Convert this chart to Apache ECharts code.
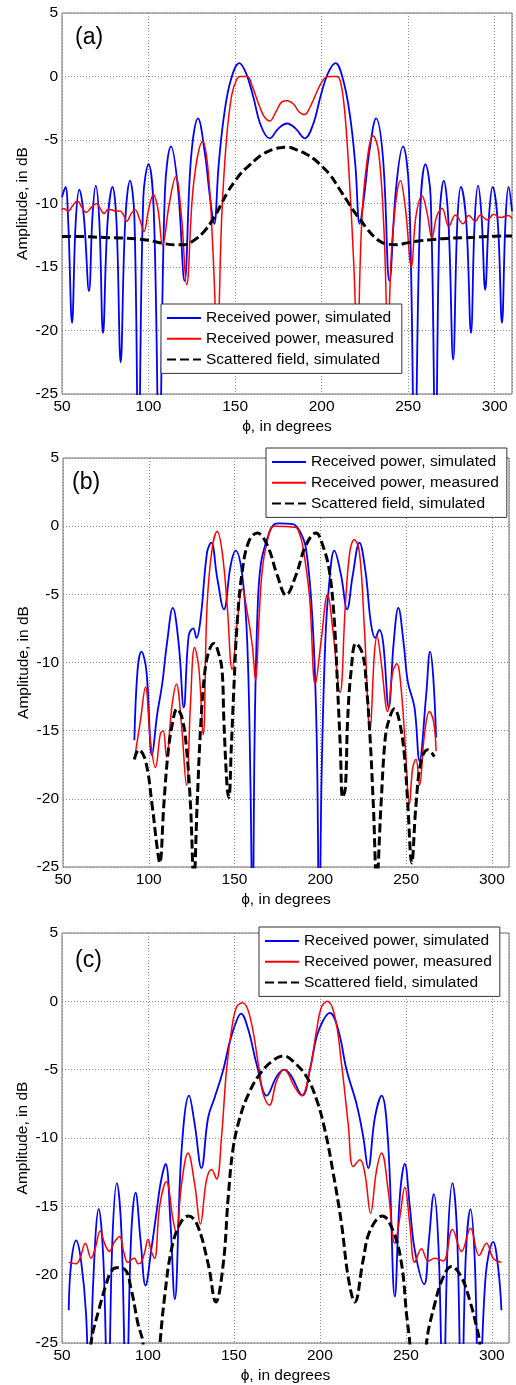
<!DOCTYPE html>
<html><head><meta charset="utf-8">
<script src="https://cdn.jsdelivr.net/npm/echarts@6/dist/echarts.min.js"></script>
<style>html,body{margin:0;padding:0;background:#fff}#c{width:516px;height:1385px}</style>
</head><body><div id="c"></div><script>
// ---- data: [phi (deg), amplitude (dB)] ----
const xTicks = [50, 100, 150, 200, 250, 300];
const yTicks = [-25, -20, -15, -10, -5, 0, 5];
const seriesNames = ['Received power, simulated', 'Received power, measured', 'Scattered field, simulated'];
const panelLabels = ['(a)', '(b)', '(c)'];

const simA = [[50,-9.5],[52,-8.7],[53.6,-11.5],[55.8,-19.4],[57.9,-11.5],[60,-8.9],[62.6,-11],[65.6,-16.9],[67.6,-11],[69.5,-8.6],[71.6,-11.5],[73.7,-20.2],[76.3,-11.5],[79.2,-8.7],[81.5,-11.5],[83.9,-22.5],[86.5,-11.5],[89.3,-8.2],[91.8,-11],[94.2,-30],[97,-9.5],[100,-6.9],[103,-10.5],[106.2,-30],[109.5,-9],[113,-5.5],[117,-8.8],[120.8,-16.1],[124.5,-6.5],[128.6,-3.3],[132.5,-6],[135.5,-9.5],[137.9,-11.6],[140.5,-7],[143.5,-3.2],[147.5,-0.3],[152.5,1.05],[156.5,0.2],[160.5,-1.6],[165,-3.9],[170,-4.87],[175,-4.1],[180,-3.7],[185,-4.1],[190.2,-4.87],[195,-3.8],[199.5,-1.5],[203.5,0.2],[208,1.05],[212.5,-0.3],[216.5,-3.2],[219.5,-7],[222,-11.6],[224.5,-9.5],[227.5,-6],[231.5,-3.3],[235.5,-6.5],[239.2,-16.1],[243,-8.8],[247,-5.5],[250.5,-9],[253.8,-30],[257,-10.5],[260,-6.9],[263,-9.5],[265.8,-30],[268.2,-11],[270.6,-8.2],[273.3,-11.5],[276,-22.3],[278.4,-11.5],[280.5,-8.7],[283.6,-11.5],[286.3,-20.2],[288.4,-11.5],[290.4,-8.6],[292.4,-11],[294.5,-16.8],[296.7,-11],[298.8,-8.7],[301.8,-11.5],[304.2,-19.4],[306.2,-11.5],[308,-8.7],[310,-10.6]];
const meaA = [[50,-10.5],[50.8,-10.4],[53.7,-10.6],[56,-10.2],[58.9,-9.8],[61.5,-10.3],[63.9,-10.7],[67,-10.3],[70,-10.0],[72.5,-10.5],[74.3,-10.8],[76.5,-10.5],[78.7,-10.5],[81,-10.6],[83.5,-10.6],[85.5,-10.9],[87.4,-11.4],[90,-10.8],[92.2,-10.5],[95,-11.3],[97.4,-12.2],[100,-10.5],[102.8,-9.3],[105.5,-10.5],[108.1,-13.3],[112,-10],[115.7,-7.9],[119,-11],[122,-16.4],[126,-8.5],[131.3,-5.1],[134.5,-7.5],[137.3,-14],[139.7,-21],[142.3,-11],[145,-5],[148,-1.5],[151,-0.2],[153,0],[157,0],[160,-0.8],[164,-2.3],[167,-3.2],[170,-3.5],[173.5,-2.8],[177,-2.0],[180,-1.9],[184,-2.2],[187,-2.8],[190.2,-3.0],[193,-2.5],[196,-1.6],[199,-0.7],[202,-0.1],[205,0],[209,0],[211.2,-0.6],[213.5,-3],[216,-8],[218.5,-14.5],[220.6,-21],[223,-12],[225.5,-7.5],[229.8,-4.66],[233,-6],[236,-12],[238.3,-20],[241,-12.5],[245.6,-8.2],[248.5,-10.5],[251.9,-15],[254.5,-11],[258.1,-9.4],[261,-10.8],[263.8,-12.7],[266.5,-11],[269.6,-10.4],[273.5,-11.8],[277.3,-10.9],[281.7,-11.6],[285,-10.95],[288.8,-11.4],[291.7,-10.9],[295.6,-11.3],[299.4,-10.85],[303.3,-11.1],[308,-10.95],[310,-11.2]];
const scaA = [[50,-12.6],[60,-12.6],[70,-12.65],[80,-12.7],[90,-12.75],[100,-12.9],[108.8,-13.15],[115,-13.25],[120.4,-13.25],[126.3,-12.9],[132.1,-12.2],[137.9,-11.1],[141.8,-10.1],[145.7,-9.1],[149.6,-8.3],[153.5,-7.6],[157.4,-7.1],[161.3,-6.6],[165,-6.2],[169.1,-5.9],[173,-5.7],[176.8,-5.6],[180,-5.55],[186,-5.8],[191,-6.1],[195.6,-6.5],[200.4,-7.1],[205.2,-7.8],[210,-8.8],[214.8,-9.8],[218.6,-10.6],[222.5,-11.3],[226.3,-12.0],[230.2,-12.6],[234,-13.0],[237.9,-13.2],[243.6,-13.25],[249.4,-13.1],[256,-12.95],[262.9,-12.85],[272,-12.75],[282,-12.7],[296,-12.6],[310,-12.55]];

const simB = [[91.6,-15.7],[93.5,-10.5],[95.7,-9.2],[98.6,-10.6],[101.9,-16.8],[104.9,-13.8],[107.8,-11.6],[110.7,-8.5],[114,-6.0],[117.5,-8.7],[120.4,-13.3],[123.3,-8.0],[125.9,-7.5],[127.8,-8.2],[130.2,-6.8],[134,-1.9],[136.4,-1.2],[139.9,-3.8],[143.8,-6.1],[147.7,-2.9],[150.6,-1.8],[154.5,-3.6],[157.4,-8.5],[159.3,-19],[160.5,-30],[161.7,-15.5],[163.2,-7.0],[165.2,-2.9],[169.1,-0.9],[173,0.12],[176,0.2],[183.9,0.15],[187.7,-0.3],[191.6,-1.6],[195.5,-7],[197.9,-15.5],[199.4,-30],[200.8,-18],[202.9,-8.5],[204.9,-4.6],[208.2,-1.8],[212.1,-3.6],[215.6,-6.1],[218.9,-3.6],[222.8,-1.2],[226.3,-3.3],[229.6,-7.2],[232.1,-8.2],[234.4,-7.6],[236.6,-8.5],[239.9,-13.3],[242.8,-8.5],[245.5,-6.0],[248.5,-8.5],[251,-11.4],[254.9,-13.3],[257.8,-17.2],[261.7,-12.4],[264,-9.2],[265.8,-11],[267.5,-15.5]];
const meaB = [[91.6,-17.1],[95.1,-14.3],[98.1,-11.8],[101,-15.8],[103.9,-17.7],[106.8,-15.2],[108.4,-15.0],[110.3,-16.9],[113.6,-13.1],[116.1,-11.6],[118.9,-14.3],[122,-19],[124.3,-13.1],[126.7,-8.9],[129.2,-10.4],[131.7,-15.3],[134,-5.8],[137,-1.6],[139.9,-0.4],[142.8,-1.9],[145.7,-5.8],[148.6,-10.5],[151.6,-7],[154.5,-4.6],[157.4,-6.3],[160.3,-8.7],[162.3,-11.3],[164.2,-7],[166.1,-3.3],[169.1,-1.1],[173,0],[185.8,-0.1],[187.7,-0.5],[189.7,-1.4],[193.6,-5],[197.1,-11.6],[200.4,-8.5],[204.3,-5],[207.2,-7.5],[211.5,-12.2],[214.6,-5.8],[217.3,-1.8],[219.8,-1.0],[222.8,-1.9],[225.7,-7.5],[229,-15],[231.5,-9.4],[233.1,-8.1],[235.4,-9.9],[239.3,-13.6],[242.2,-10.7],[244.6,-10.1],[247.1,-11.9],[249.6,-16.3],[251.9,-20.4],[253.9,-17.7],[255.8,-17.1],[257.8,-19],[260.7,-15.3],[263.6,-13.6],[266,-14.3],[267.5,-16.5]];
const scaB = [[91.6,-17.1],[94.2,-16.4],[98.1,-17.2],[101.9,-20.4],[104.9,-23.6],[106.4,-24.7],[108.8,-20.4],[111.1,-16.8],[113.6,-14.6],[116.5,-13.4],[119.5,-14.1],[122,-16.3],[124.3,-20.4],[126.3,-26],[128.2,-20.4],[130.2,-14.8],[132.5,-10.9],[135,-9.2],[137.9,-8.6],[140.9,-9.4],[142.8,-10.7],[143.8,-14.3],[145.7,-19.2],[146.7,-19.9],[148.1,-16.3],[149.6,-11.9],[151.6,-7],[154.5,-3.3],[158.4,-1.1],[163.2,-0.5],[169.1,-1.4],[174.9,-3.6],[180,-5.05],[185.8,-3.6],[191.6,-1.4],[197.5,-0.5],[201.4,-1.4],[205.3,-3.3],[208.2,-7],[210.1,-11.9],[211.7,-16.3],[213,-19.9],[214.6,-19.2],[215.9,-14.3],[217.9,-10.7],[220.8,-8.6],[224.7,-9.4],[227,-11.9],[229,-15.5],[230.9,-20.4],[232.9,-26],[235.4,-20.4],[237.9,-15.5],[240.3,-14.1],[243.2,-13.4],[246.1,-14.3],[249,-16.8],[251,-20.4],[253.3,-24.7],[255.8,-20.4],[258.8,-17.2],[262.6,-16.4],[266.5,-16.9]];

const simC = [[53.9,-22.6],[55.3,-19.2],[58.2,-17.5],[61.1,-19],[64,-22.9],[66,-30],[68,-21],[71.4,-15.2],[74.1,-19],[76.7,-30],[79.3,-17.5],[81.9,-13.3],[84.6,-17],[87.4,-30],[90.1,-17.5],[92.8,-14],[95.7,-17.5],[98.6,-20.8],[101.9,-18.2],[104.9,-15.5],[107.5,-13.2],[110.3,-11.9],[113,-16],[115.6,-21.8],[119.5,-11],[123.9,-6.9],[127.2,-9],[131.1,-12.2],[135,-8.5],[138.9,-7.0],[143.8,-5],[147.7,-2.9],[151.6,-1.4],[154.1,-0.9],[158.4,-2.1],[163.2,-4.6],[169.1,-6.9],[174.9,-5.5],[179.2,-5],[183,-5.4],[189.9,-6.9],[194.2,-5],[198.1,-2.6],[201.9,-1.4],[205.8,-0.85],[210.7,-2.1],[215.5,-5],[221.3,-7.5],[225.2,-9.9],[228.1,-12.2],[232,-8.5],[235.9,-6.9],[239.7,-10.4],[243.6,-21.6],[246.5,-14.3],[249.4,-11.9],[252.3,-15],[255.2,-18.2],[260.7,-20.7],[263.4,-17.5],[266.3,-14.1],[269,-18],[271.7,-30],[274.4,-17.5],[277.1,-13.3],[279.8,-17],[282.4,-30],[284.9,-18.5],[287.6,-15.2],[290.1,-19],[292.6,-30],[296.5,-20],[300.8,-17.6],[303.7,-19.5],[305.6,-22.6]];
const meaC = [[53.9,-19.1],[58.2,-19.2],[60.5,-18.8],[63.6,-17.7],[66.9,-18.8],[69.5,-18.0],[72.2,-16.8],[75,-17.8],[77.6,-18.3],[80.5,-17.6],[83.5,-17.2],[86,-18.4],[88.3,-19.1],[90.3,-18.9],[92.2,-18.8],[94.2,-19.2],[96.1,-19.1],[98.2,-18.3],[100,-17.4],[102,-18.3],[103.9,-18.8],[106.8,-15],[110.7,-13.2],[114.6,-16],[116.5,-17],[119.5,-13.4],[123.3,-11.1],[127.2,-13.4],[130.5,-16.3],[134,-13.1],[137,-12.3],[139.9,-13],[142.8,-9.9],[145.7,-5],[148.6,-2.1],[151.6,-0.4],[155.1,-0.1],[159.3,-1.1],[164.2,-4.6],[167.1,-6.8],[170.6,-7.6],[174.9,-5.8],[179.2,-5],[181.6,-5.3],[185,-6.2],[189.3,-6.9],[194.2,-5],[198.1,-2.1],[201,-0.4],[204.3,0],[208.7,-1.1],[212.6,-4.6],[216.5,-9],[219.4,-12.1],[223.3,-11.6],[226.2,-12.6],[229.5,-15.5],[232.9,-12.4],[235.9,-11.1],[239.7,-13.8],[243.6,-17.7],[246.5,-15.8],[249.4,-13.6],[252.3,-16.3],[255.2,-19.1],[259.1,-18.1],[263,-19],[266.9,-18.8],[271.7,-19],[277.1,-16.7],[282.4,-18.3],[287.6,-16.6],[292.6,-18.6],[296.9,-17.7],[300.8,-18.8],[305.6,-19.1]];
const scaC = [[64,-30],[66.9,-25],[71.8,-22.4],[75.7,-20.7],[78.5,-19.8],[81.5,-19.5],[86.4,-19.6],[90.3,-21.1],[94.2,-23.6],[97.1,-25],[101.5,-33],[107,-25],[109.7,-21.6],[113.6,-18.2],[118.5,-16.3],[123.5,-15.7],[128.5,-16.3],[135,-19.2],[139.5,-22],[143.8,-19.2],[146.7,-14.3],[149.6,-10.7],[153.5,-8.5],[158.4,-6.8],[165.2,-5.3],[173,-4.3],[179.2,-4.0],[184.5,-4.4],[192.2,-5.5],[198.1,-7.2],[202.9,-9.4],[207.8,-12.6],[212.6,-16.3],[216.5,-20.2],[220.3,-22],[225.2,-18.9],[229.1,-16.8],[236.4,-15.7],[242.6,-16.8],[247.5,-19.2],[250.4,-22.9],[252.3,-25],[257,-33],[262,-25],[266.9,-22.1],[271.7,-20.2],[276.5,-19.4],[282.4,-20.2],[287.2,-21.9],[291.1,-23.8],[293,-25],[296,-30]];

// ---- layout ----
const FONT = "'Liberation Sans', Arial, Helvetica, sans-serif";
const panels = [
  { data: [simA, meaA, scaA], grid: { left: 62, top: 13, width: 450, height: 381 }, legend: { left: 161, top: 304 }, labelPos: [75, 26] },
  { data: [simB, meaB, scaB], grid: { left: 63, top: 458, width: 446, height: 409 }, legend: { left: 266, top: 448 }, labelPos: [72, 471] },
  { data: [simC, meaC, scaC], grid: { left: 62, top: 933, width: 447, height: 410 }, legend: { left: 259, top: 927 }, labelPos: [75, 949] }
];
const styles = [
  { color: '#0000ff', width: 1.8, type: 'solid' },
  { color: '#ff0000', width: 1.5, type: 'solid' },
  { color: '#000000', width: 3, type: [9, 4] }
];

const grids = [], xAxes = [], yAxes = [], series = [], legends = [], graphics = [];
panels.forEach((p, i) => {
  grids.push(Object.assign({ show: true, borderColor: '#6f6f6f', borderWidth: 1, backgroundColor: 'transparent' }, p.grid));
  xAxes.push({
    gridIndex: i, type: 'value', min: xTicks[0], max: 310, interval: 50,
    axisLine: { show: false }, axisTick: { show: false },
    splitLine: { show: true, lineStyle: { type: [1, 2], color: '#8c8c8c', width: 1 } },
    axisLabel: { margin: 5, fontSize: 15.5, color: '#000', fontFamily: FONT,
      formatter: v => (xTicks.indexOf(v) >= 0 ? String(v) : '') },
    name: 'ϕ, in degrees', nameLocation: 'middle', nameGap: 25,
    nameTextStyle: { fontSize: 15.5, color: '#000', fontFamily: FONT }
  });
  yAxes.push({
    gridIndex: i, type: 'value', min: yTicks[0], max: yTicks[yTicks.length - 1], interval: 5,
    axisLine: { show: false }, axisTick: { show: false },
    splitLine: { show: true, lineStyle: { type: [1, 2], color: '#8c8c8c', width: 1 } },
    axisLabel: { margin: 4, fontSize: 15.5, color: '#000', fontFamily: FONT },
    name: 'Amplitude, in dB', nameLocation: 'middle', nameGap: 31, nameMoveOverlap: false,
    nameTextStyle: { fontSize: 15.5, color: '#000', fontFamily: FONT }
  });
  p.data.forEach((d, k) => {
    const s = styles[k];
    series.push({
      type: 'line', name: seriesNames[k], xAxisIndex: i, yAxisIndex: i, data: d,
      symbol: 'none', smooth: 0.4, clip: true,
      itemStyle: { color: s.color },
      lineStyle: { color: s.color, width: s.width, type: s.type }
    });
  });
  legends.push({
    left: p.legend.left, top: p.legend.top, orient: 'vertical',
    data: seriesNames, itemWidth: 34, itemHeight: 14, itemGap: 4.7,
    padding: [6, 8, 6, 5], backgroundColor: '#fff', borderColor: '#333', borderWidth: 1, borderRadius: 0,
    selectedMode: false,
    itemStyle: { opacity: 0 },
    textStyle: { fontSize: 15.5, color: '#000', fontFamily: FONT }
  });
  graphics.push({
    type: 'text', left: p.labelPos[0], top: p.labelPos[1], z: 10,
    style: { text: panelLabels[i], fontSize: 23, fontFamily: FONT, fill: '#000' }
  });
});

const chart = echarts.init(document.getElementById('c'), null, { renderer: 'canvas' });
chart.setOption({
  animation: false,
  backgroundColor: '#fff',
  grid: grids, xAxis: xAxes, yAxis: yAxes, series: series, legend: legends, graphic: graphics
});
</script></body></html>
